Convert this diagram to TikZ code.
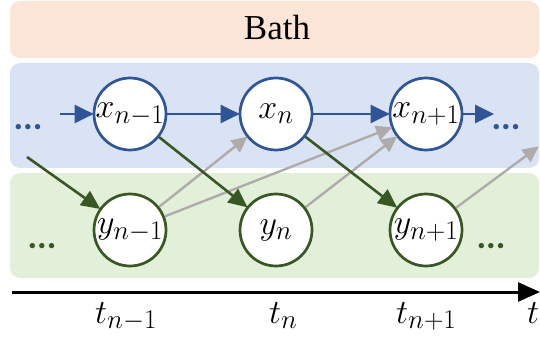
\RequirePackage{fix-cm}
\documentclass[tikz,border=0pt]{standalone}
\usepackage{fontspec}
\setmainfont{Liberation Serif}
\newfontfamily\dotfont{Carlito}
\usetikzlibrary{arrows.meta}
\DeclareMathSizes{34}{34}{27}{20}
\definecolor{peach}{HTML}{FBE5D6}
\definecolor{bluebg}{HTML}{DAE3F3}
\definecolor{greenbg}{HTML}{E2F0D9}
\definecolor{blueln}{HTML}{2F5597}
\definecolor{greenln}{HTML}{385723}
\definecolor{grayln}{HTML}{AFABAB}
\tikzset{
  band/.style={rounded corners=10pt},
  xnode/.style={circle, draw=blueln, line width=2.7pt, fill=white, minimum size=72pt, inner sep=0pt,
     font=\fontsize{34}{40}\selectfont},
  ynode/.style={circle, draw=greenln, line width=2.7pt, fill=white, minimum size=72pt, inner sep=0pt,
     font=\fontsize{34}{40}\selectfont},
  barrow/.style={draw=blueln, line width=2.8pt, -{Triangle[length=19pt,width=18pt]}, shorten >=-1pt},
  garrow/.style={draw=greenln, line width=2.6pt, -{Triangle[length=19pt,width=17pt]}, shorten >=-1pt},
  grarrow/.style={draw=grayln, line width=2.4pt, -{Triangle[length=16pt,width=15pt]}, shorten >=-1pt},
  dots/.style={font=\dotfont\bfseries\fontsize{36}{40}\selectfont, inner sep=0pt, anchor=base},
  tlabel/.style={font=\fontsize{34}{40}\selectfont, inner sep=0pt, anchor=base west},
}
\begin{document}
\begin{tikzpicture}[x=1pt,y=-1pt]
\useasboundingbox (0,0) rectangle (540,339);
% bands
\fill[peach, band] (10,1) rectangle (539,58);
\fill[bluebg, band] (10,63) rectangle (539,168);
\fill[greenbg, band] (10,173) rectangle (539,278);
\node[font=\fontsize{35}{40}\selectfont, inner sep=0pt, anchor=base] (bath) at (277,40) {Bath};
% nodes
\node[xnode] (x1) at (130,114) {$x_{n-1}$};
\node[xnode] (x2) at (276,114) {$x_{n}$};
\node[xnode] (x3) at (426,114) {$x_{n+1}$};
\node[ynode] (y1) at (130,230) {$y_{n-1}$};
\node[ynode] (y2) at (276,230) {$y_{n}$};
\node[ynode] (y3) at (426,230) {$y_{n+1}$};
% dots
\node[dots, text=blueln] (dxl) at (28,130) {...};
\node[dots, text=blueln] (dxr) at (506,130) {...};
\node[dots, text=greenln] (dyl) at (42,248) {...};
\node[dots, text=greenln] (dyr) at (491,248) {...};
% free ends
\coordinate (bin) at (60,114);
\coordinate (bout) at (493,114);
\coordinate (gin) at (27,157);
\coordinate (grout) at (538,147);
% blue arrows
\draw[barrow] (bin) -- (x1);
\draw[barrow] (x1) -- (x2);
\draw[barrow] (x2) -- (x3);
\draw[barrow] (x3) -- (bout);
% gray arrows
\draw[grarrow] (y1) -- (x2);
\draw[grarrow] (y1) -- (x3);
\draw[grarrow] (y2) -- (x3);
\draw[grarrow] (y3) -- (grout);
% green arrows
\draw[garrow] (gin) -- (y1);
\draw[garrow] (x1) -- (y2);
\draw[garrow] (x2) -- (y3);
% time axis
\coordinate (a0) at (12,292);
\coordinate (a1) at (540,292);
\draw[line width=3pt, -{Triangle[length=22pt,width=19pt]}] (a0) -- (a1);
\node[tlabel] (t1) at (95,323) {$t_{n-1}$};
\node[tlabel] (t2) at (269,323) {$t_{n}$};
\node[tlabel] (t3) at (396,323) {$t_{n+1}$};
\node[tlabel] (t) at (527,323) {$t$};
\end{tikzpicture}
\end{document}
